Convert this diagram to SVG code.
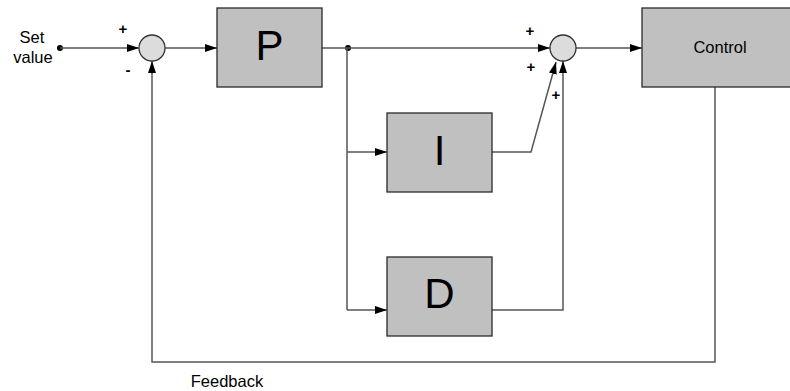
<svg xmlns="http://www.w3.org/2000/svg" width="790" height="391" viewBox="0 0 790 391">
<style>
.box{fill:#c0c0c0;stroke:#2a2a2a;stroke-width:1.3}
.sum{fill:#dcdcdc;stroke:#333;stroke-width:1.3}
.ln{fill:none;stroke:#555;stroke-width:1.5}
.big{font-family:"Liberation Sans",Arial,sans-serif;font-size:42px;fill:#000;text-anchor:middle}
.lbl{font-family:"Liberation Sans",Arial,sans-serif;font-size:16.5px;fill:#000;text-anchor:middle}
.sg{font-family:"Liberation Sans",Arial,sans-serif;font-size:15px;font-weight:bold;fill:#000;text-anchor:middle}
</style>
<defs>
<marker id="arr" markerUnits="userSpaceOnUse" markerWidth="13" markerHeight="9" refX="12" refY="4" orient="auto">
<path d="M0,0 L12,4 L0,8 z" fill="#000"/>
</marker>
</defs>
<g id="connectors">
<circle cx="60" cy="48" r="3" fill="#000"/>
<circle cx="348" cy="48" r="3" fill="#000"/>
<path class="ln" d="M60,48 H139" marker-end="url(#arr)"/>
<path class="ln" d="M165,48 H217" marker-end="url(#arr)"/>
<path class="ln" d="M322,48 H550" marker-end="url(#arr)"/>
<path class="ln" d="M347,48 V310"/>
<path class="ln" d="M347,152 H387" marker-end="url(#arr)"/>
<path class="ln" d="M347,310 H387" marker-end="url(#arr)"/>
<path class="ln" d="M492,152 H531 L556,62" marker-end="url(#arr)"/>
<path class="ln" d="M492,310 H563 V61" marker-end="url(#arr)"/>
<path class="ln" d="M576,48 H642" marker-end="url(#arr)"/>
<path class="ln" d="M715,87 V362 H152 V61" marker-end="url(#arr)"/>
</g>
<g id="sum1">
<circle class="sum" cx="152" cy="48" r="13"/>
<text class="sg" x="123" y="34">+</text>
<text class="sg" x="128" y="75">-</text>
</g>
<g id="P">
<rect class="box" x="217" y="8" width="105" height="79"/>
<text class="big" x="269.5" y="60">P</text>
</g>
<g id="I">
<rect class="box" x="387" y="113" width="105" height="79"/>
<text class="big" x="439.5" y="165">I</text>
</g>
<g id="D">
<rect class="box" x="387" y="257" width="105" height="79"/>
<text class="big" x="439.5" y="308">D</text>
</g>
<g id="sum2">
<circle class="sum" cx="563" cy="48" r="13"/>
<text class="sg" x="530" y="36">+</text>
<text class="sg" x="531" y="72">+</text>
<text class="sg" x="556" y="100">+</text>
</g>
<g id="control">
<rect class="box" x="642" y="8" width="160" height="79"/>
<text class="lbl" x="720" y="53">Control</text>
</g>
<g id="labels">
<text class="lbl" x="32" y="43">Set</text>
<text class="lbl" x="33" y="63">value</text>
<text class="lbl" x="227" y="387">Feedback</text>
</g>
</svg>
